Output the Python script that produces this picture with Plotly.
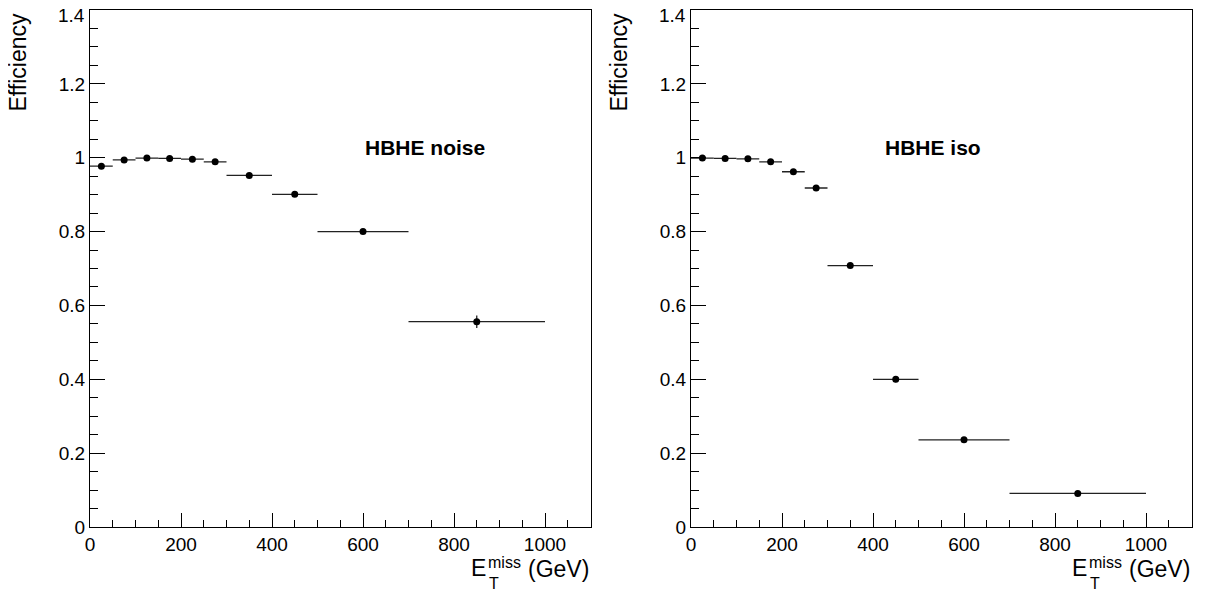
import plotly.graph_objects as go

# bin edges / centers (GeV)
bin_centers = [25, 75, 125, 175, 225, 275, 350, 450, 600, 850]
bin_half_widths = [25, 25, 25, 25, 25, 25, 50, 50, 100, 150]

# HBHE noise filter efficiency
noise_eff = [0.977, 0.994, 0.999, 0.998, 0.996, 0.989, 0.952, 0.901, 0.800, 0.556]
noise_err = [0.003, 0.002, 0.001, 0.001, 0.002, 0.003, 0.004, 0.005, 0.006, 0.017]

# HBHE iso filter efficiency
iso_eff = [0.999, 0.998, 0.997, 0.989, 0.962, 0.918, 0.708, 0.400, 0.236, 0.091]
iso_err = [0.001, 0.001, 0.002, 0.003, 0.004, 0.005, 0.006, 0.008, 0.007, 0.006]

panel_labels = ['HBHE noise', 'HBHE iso']
x_ticks = [0, 200, 400, 600, 800, 1000]
y_ticks = [0, 0.2, 0.4, 0.6, 0.8, 1.0, 1.2, 1.4]
# top label is drawn separately so it does not get cut at the page edge
y_tick_text = ['0', '0.2', '0.4', '0.6', '0.8', '1', '1.2', '']
top_label = '1.4'

# page body has an 8px margin, so the figure is drawn inside 1198x586
OFF = 8
W, H = 1206 - OFF, 594 - OFF
FONT = 'Liberation Sans, Arial, Helvetica, sans-serif'

# plot-area frames in window pixels: (left, right)
frames = [(90, 590.5), (691, 1191.5)]
top_px, bottom_px = 10, 527


def px_x(v):
    return (v - OFF) / W


def px_y(v):
    return (H - (v - OFF)) / H


fig = go.Figure()

for i, (eff, err) in enumerate([(noise_eff, noise_err), (iso_eff, iso_err)]):
    sfx = '' if i == 0 else '2'
    fig.add_trace(go.Scatter(
        x=bin_centers, y=eff,
        mode='markers',
        marker=dict(color='black', size=7, symbol='circle'),
        error_x=dict(type='data', array=bin_half_widths, width=0, color='#222', thickness=1.3),
        error_y=dict(type='data', array=err, width=0, color='#222', thickness=1.3),
        xaxis='x' + sfx, yaxis='y' + sfx,
        showlegend=False,
        hoverinfo='x+y'
    ))

axis_common = dict(
    showgrid=False, zeroline=False, automargin=False,
    showline=True, linecolor='black', linewidth=1, mirror=True,
    ticks='inside', tickcolor='black', tickwidth=1,
    ticklabeloverflow='allow',
    tickfont=dict(family=FONT, size=19, color='black'),
)

layout = dict(
    width=W, height=H,
    margin=dict(l=0, r=0, t=0, b=0),
    plot_bgcolor='white', paper_bgcolor='white',
    font=dict(family=FONT, color='black'),
    annotations=[],
)

for i, (l, r) in enumerate(frames):
    sfx = '' if i == 0 else '2'
    layout['xaxis' + sfx] = dict(
        axis_common,
        domain=[px_x(l), px_x(r)],
        range=[0, 1100], tickvals=x_ticks, ticklen=14,
        minor=dict(dtick=50, tick0=0, ticklen=7, ticks='inside', tickcolor='black', showgrid=False),
        anchor='y' + sfx,
    )
    layout['yaxis' + sfx] = dict(
        axis_common,
        domain=[px_y(bottom_px), px_y(top_px)],
        range=[0, 1.40001], tickvals=y_ticks, ticktext=y_tick_text, ticklen=15,
        minor=dict(dtick=0.05, tick0=0, ticklen=8, ticks='inside', tickcolor='black', showgrid=False),
        anchor='x' + sfx,
    )

    ann = layout['annotations']
    ann.append(dict(text=top_label, xref='paper', yref='paper',
                    x=px_x(l - 3), y=px_y(16), xanchor='right', yanchor='middle',
                    showarrow=False, font=dict(family=FONT, size=19, color='black')))
    # y title, top aligned
    ann.append(dict(text='Efficiency', textangle=-90, xref='paper', yref='paper',
                    x=px_x(l - 72), y=px_y(11), xanchor='center', yanchor='top',
                    showarrow=False, font=dict(family=FONT, size=23, color='black')))
    # x title: E_T^miss (GeV), right aligned
    ann.append(dict(text='(GeV)', xref='paper', yref='paper', x=px_x(r), y=px_y(569),
                    xanchor='right', yanchor='middle', showarrow=False,
                    font=dict(family=FONT, size=23, color='black')))
    ann.append(dict(text='E', xref='paper', yref='paper', x=px_x(r - 103), y=px_y(568),
                    xanchor='right', yanchor='middle', showarrow=False,
                    font=dict(family=FONT, size=23, color='black')))
    ann.append(dict(text='miss', xref='paper', yref='paper', x=px_x(r - 105), y=px_y(562),
                    xanchor='left', yanchor='middle', showarrow=False,
                    font=dict(family=FONT, size=16, color='black')))
    ann.append(dict(text='T', xref='paper', yref='paper', x=px_x(r - 104), y=px_y(583),
                    xanchor='left', yanchor='middle', showarrow=False,
                    font=dict(family=FONT, size=16, color='black')))
    # panel label
    lab_x = [363, 883][i]
    ann.append(dict(text='<b>' + panel_labels[i] + '</b>', xref='paper', yref='paper',
                    x=px_x(lab_x), y=px_y(147), xanchor='left', yanchor='middle',
                    showarrow=False, font=dict(family=FONT, size=21, color='black')))

fig.update_layout(**layout)

fig.write_html('out.html')
